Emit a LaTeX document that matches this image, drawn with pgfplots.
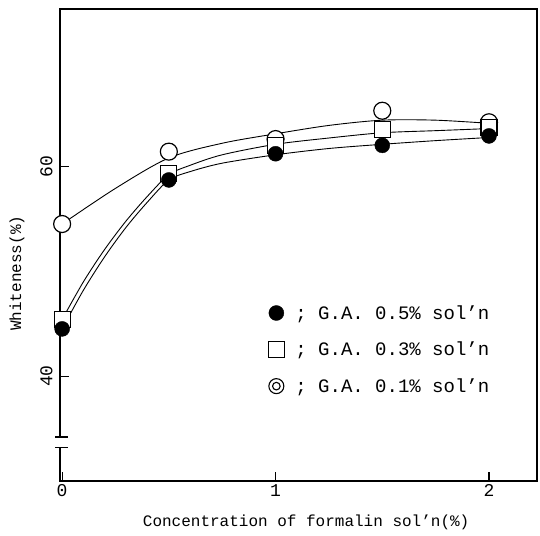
\documentclass[border=0pt]{standalone}
\usepackage{pgfplots}
\pgfplotsset{compat=1.18}
\usepackage{fontspec}
\setmainfont{Liberation Mono}
\begin{document}
\begin{tikzpicture}
\begin{axis}[
  scale only axis, width=477pt, height=472pt,
  xmin=-0.01, xmax=2.225, ymin=30, ymax=75,
  xtick={0,1,2}, ytick={40,60},
  tick align=inside, xtick pos=bottom, ytick pos=left,
  major tick length=9pt,
  axis line style={line width=1.3pt},
  tick style={line width=1.2pt,black},
  ticklabel style={font=\fontsize{18}{18}\selectfont},
  yticklabel style={rotate=90, anchor=south},
  yticklabel shift=4pt,
  /pgf/number format/assume math mode=true,
  xlabel={Concentration of formalin sol'n(\%)},
  ylabel={Whiteness(\%)},
  label style={font=\fontsize{16}{16}\selectfont},
  xlabel style={at={(axis description cs:0.516,-0.087)}, anchor=center},
  ylabel style={at={(axis description cs:-0.09,0.44)}, anchor=center},
  legend style={at={(axis description cs:0.43,0.381)}, anchor=north west,
    draw=none, fill=none, font=\fontsize{19}{19}\selectfont, row sep=17.3pt,
    /tikz/every odd column/.append style={column sep=9pt}},
  legend cell align=left,
]
% fitted curves
\addplot[black, line width=0.9pt, smooth, tension=0.5, forget plot] coordinates {
 (0,54.5) (0.25,57.9) (0.5,60.8) (0.75,62.2) (1,63.1) (1.25,63.9) (1.5,64.4) (1.75,64.4) (2,64.1)};
\addplot[black, line width=0.9pt, smooth, tension=0.5, forget plot] coordinates {
 (0,45.4) (0.1,49.0) (0.2,52.1) (0.3,54.8) (0.4,57.15) (0.5,59.2) (0.6,60.1) (0.75,61.1) (1,62.1) (1.25,62.7) (1.5,63.2) (1.75,63.4) (2,63.6)};
\addplot[black, line width=0.9pt, smooth, tension=0.5, forget plot] coordinates {
 (0,44.5) (0.1,48.2) (0.2,51.4) (0.3,54.2) (0.4,56.6) (0.5,58.7) (0.6,59.5) (0.75,60.3) (1,61.1) (1.25,61.7) (1.5,62.1) (1.75,62.45) (2,62.75)};
% data: G.A. 0.1%
\addplot[only marks, mark=*, mark size=8.5pt, mark options={fill=white, draw=black, line width=1.2pt}, forget plot] coordinates {
 (0,54.5) (0.5,61.4) (1,62.6) (1.5,65.3) (2,64.2)};
% data: G.A. 0.3%
\addplot[only marks, mark=square*, mark size=8pt, mark options={fill=white, draw=black, line width=1.2pt}, forget plot] coordinates {
 (0,45.4) (0.5,59.3) (1,62.0) (1.5,63.5) (2,63.7)};
% data: G.A. 0.5%
\addplot[only marks, mark=*, mark size=7.5pt, mark options={fill=black, draw=black}, forget plot] coordinates {
 (0,44.5) (0.5,58.7) (1,61.2) (1.5,62.0) (2,62.9)};
\addlegendimage{only marks, mark=*, mark size=7.5pt, black}
\addlegendentry{; G.A. 0.5\% sol'n}
\addlegendimage{only marks, mark=square, mark size=8pt, black, line width=1.1pt}
\addlegendentry{; G.A. 0.3\% sol'n}
\addlegendimage{legend image code/.code={\draw[black,line width=1.1pt] (0.3cm,0) circle (7.5pt); \draw[black,line width=1.1pt] (0.3cm,0) circle (3.8pt);}}
\addlegendentry{; G.A. 0.1\% sol'n}
\coordinate (bA) at (axis cs:-0.01,34.2);
\coordinate (bB) at (axis cs:-0.01,33.2);
\end{axis}
\fill[white] ([xshift=-3pt]bA) rectangle ([xshift=3pt]bB);
\draw[line width=1.2pt] ([xshift=-5pt]bA) -- ([xshift=8pt]bA);
\draw[line width=1.2pt] ([xshift=-5pt]bB) -- ([xshift=8pt]bB);
\pgfresetboundingbox
\path[use as bounding box] ([xshift=-60pt,yshift=-55pt]current axis.south west) rectangle ([xshift=3pt,yshift=9pt]current axis.north east);
\end{tikzpicture}
\end{document}
